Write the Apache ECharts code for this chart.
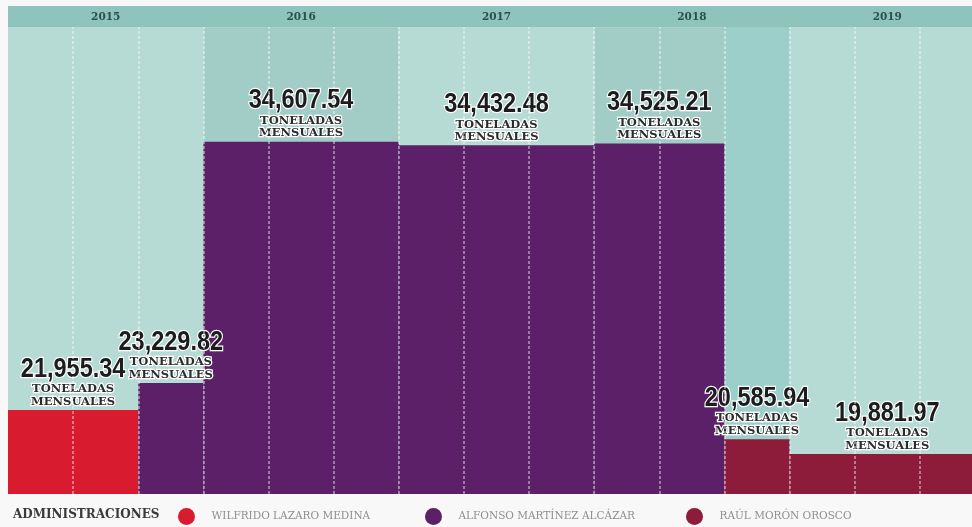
<!DOCTYPE html>
<html>
<head>
<meta charset="utf-8">
<script src="https://cdn.jsdelivr.net/npm/echarts@6/dist/echarts.min.js"></script>
<style>
html,body{margin:0;padding:0;background:#f7f8f7;overflow:hidden;}
#chart{width:985px;height:527px;}
</style>
</head>
<body>
<div id="chart"></div>
<script>
// ---- data ----
const years = ['2015', '2016', '2017', '2018', '2019'];
const administrations = ['WILFRIDO LAZARO MEDINA', 'ALFONSO MARTÍNEZ ALCÁZAR', 'RAÚL MORÓN OROSCO'];
// periods measured in column units (15 columns, 3 per year)
const periodStart = [0, 2, 3, 6, 9, 11, 12];
const periodEnd   = [2, 3, 6, 9, 11, 12, 15];
const tonsPerMonth = [21955.34, 23229.82, 34607.54, 34432.48, 34525.21, 20585.94, 19881.97];
const periodAdmin = [0, 1, 1, 1, 1, 2, 2];
const unitLine1 = 'TONELADAS';
const unitLine2 = 'MENSUALES';

const Y_MIN = 18000, Y_TOP = 40000, Y_MAX = 41000;
const adminColors = ['#d81b2f', '#5b2068', '#8c1c3a'];

function fmt(v){
  return v.toLocaleString('en-US', {minimumFractionDigits: 2, maximumFractionDigits: 2});
}

function renderItem(params, api){
  const x0 = api.value(0), x1 = api.value(1), v = api.value(2);
  const p0 = api.coord([x0, v]);
  const p1 = api.coord([x1, Y_MIN]);
  const cx = (p0[0] + p1[0]) / 2;
  return {
    type: 'group',
    children: [
      {type: 'rect', z2: 1,
       shape: {x: p0[0], y: p0[1], width: p1[0] - p0[0], height: p1[1] - p0[1]},
       style: {fill: api.visual('color')}},
      {type: 'text', z2: 100, x: cx, y: p0[1] - 27, scaleX: 0.84,
       style: {text: fmt(v), align: 'center', verticalAlign: 'bottom',
               fontSize: 28, fontFamily: '"Liberation Sans",Arial,sans-serif', fontWeight: 'bold',
               fill: '#1c1c1c', stroke: '#ffffff', lineWidth: 2.5}},
      {type: 'text', z2: 100, x: cx, y: p0[1] - 2,
       style: {text: unitLine1 + '\n' + unitLine2, align: 'center', verticalAlign: 'bottom',
               fontSize: 11.5, lineHeight: 12.5, fontFamily: '"DejaVu Serif",serif', fontWeight: 'bold',
               fill: '#2b2b2b', stroke: '#ffffff', lineWidth: 2.5}}
    ]
  };
}

const adminSeries = administrations.map((name, ai) => {
  const data = [];
  for (let i = 0; i < tonsPerMonth.length; i++) {
    if (periodAdmin[i] === ai) data.push([periodStart[i], periodEnd[i], tonsPerMonth[i]]);
  }
  return {
    name: name, type: 'custom', renderItem: renderItem,
    xAxisIndex: 0, yAxisIndex: 0,
    itemStyle: {color: adminColors[ai]},
    encode: {x: [0, 1], y: 2},
    data: data, z: 3, silent: true
  };
});

// background column shading per year
const bgAreas = years.map((y, i) => [
  {xAxis: i * 3, yAxis: Y_MIN, itemStyle: {color: i % 2 === 0 ? '#b6dad4' : '#a2ccc6'}},
  {xAxis: i * 3 + 3, yAxis: Y_TOP}
]);
bgAreas.push([{xAxis: 11, yAxis: Y_MIN, itemStyle: {color: '#9ccfc9'}}, {xAxis: 12, yAxis: Y_TOP}]);
// header band
bgAreas.push([{xAxis: 0, yAxis: Y_TOP, itemStyle: {color: '#8fc4bd'}}, {xAxis: 15, yAxis: Y_MAX}]);

const colLines = [];
for (let c = 1; c < 15; c++) colLines.push([{coord: [c, Y_MIN]}, {coord: [c, Y_TOP]}]);

const chart = echarts.init(document.getElementById('chart'));
chart.setOption({
  backgroundColor: '#f7f8f7',
  animation: false,
  title: {
    text: 'ADMINISTRACIONES', left: 13, top: 509, padding: 0,
    textStyle: {fontSize: 12, fontWeight: 'bold', fontFamily: '"DejaVu Serif",serif', color: '#3a3a3a'}
  },
  legend: administrations.map((name, i) => ({
    data: [name], left: [178, 425, 686][i], top: 508, padding: 0,
    icon: 'circle', itemWidth: 40, itemHeight: 17,
    textStyle: {fontSize: 10.5, fontFamily: '"DejaVu Serif",serif', color: '#8f8f8f'}
  })),
  grid: {left: 8, right: 0, top: 6, bottom: 33},
  xAxis: [
    {type: 'value', min: 0, max: 15, show: false},
    {type: 'category', data: years, position: 'top', boundaryGap: true,
     axisLine: {show: false}, axisTick: {show: false}, splitLine: {show: false},
     axisLabel: {inside: true, margin: 6, fontSize: 10.5, fontWeight: 'bold',
                 fontFamily: '"DejaVu Serif",serif', color: '#2c4f4b', verticalAlign: 'top'}, z: 10}
  ],
  yAxis: {type: 'value', min: Y_MIN, max: Y_MAX, show: false},
  series: [
    {type: 'line', data: [], silent: true, z: 1, xAxisIndex: 0,
     markArea: {silent: true, data: bgAreas}},
    ...adminSeries,
    {type: 'line', data: [], silent: true, z: 4, xAxisIndex: 0,
     markLine: {silent: true, symbol: ['none', 'none'], label: {show: false},
                lineStyle: {color: 'rgba(255,255,255,0.55)', type: [3, 2], width: 1.5},
                data: colLines}}
  ]
});
</script>
</body>
</html>
